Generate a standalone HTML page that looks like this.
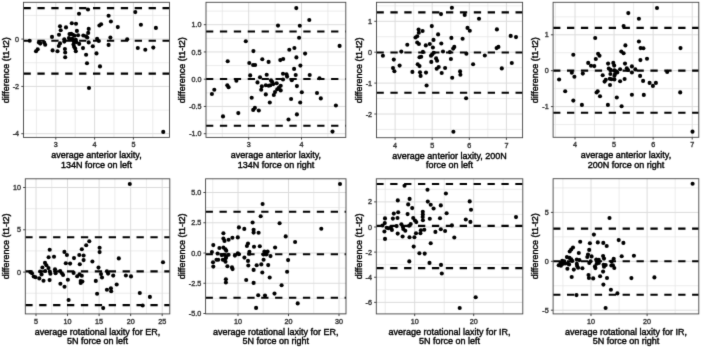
<!DOCTYPE html>
<html><head><meta charset="utf-8"><style>
html,body{margin:0;padding:0;background:#fff;width:702px;height:348px;overflow:hidden}
svg text{font-family:"Liberation Sans", sans-serif}
</style></head><body>
<svg width="702" height="348" viewBox="0 0 702 348" style="display:block"><defs><filter id="bl" x="0" y="0" width="702" height="348" filterUnits="userSpaceOnUse" color-interpolation-filters="sRGB"><feConvolveMatrix order="3" kernelMatrix="0.01134 0.08382 0.01134 0.08382 0.61935 0.08382 0.01134 0.08382 0.01134" edgeMode="duplicate" preserveAlpha="true"/></filter></defs><g filter="url(#bl)"><rect width="702" height="348" fill="#fff"/><clipPath id="p1c"><rect x="23.5" y="2.3" width="146.00" height="135.10"/></clipPath><g clip-path="url(#p1c)"><line x1="36.40" y1="2.3" x2="36.40" y2="137.4" stroke="#e4e4e4" stroke-width="0.7"/><line x1="75.20" y1="2.3" x2="75.20" y2="137.4" stroke="#e4e4e4" stroke-width="0.7"/><line x1="114.00" y1="2.3" x2="114.00" y2="137.4" stroke="#e4e4e4" stroke-width="0.7"/><line x1="152.80" y1="2.3" x2="152.80" y2="137.4" stroke="#e4e4e4" stroke-width="0.7"/><line x1="23.5" y1="15.45" x2="169.5" y2="15.45" stroke="#e4e4e4" stroke-width="0.7"/><line x1="23.5" y1="62.75" x2="169.5" y2="62.75" stroke="#e4e4e4" stroke-width="0.7"/><line x1="23.5" y1="110.05" x2="169.5" y2="110.05" stroke="#e4e4e4" stroke-width="0.7"/><line x1="55.80" y1="2.3" x2="55.80" y2="137.4" stroke="#dcdcdc" stroke-width="1"/><line x1="94.60" y1="2.3" x2="94.60" y2="137.4" stroke="#dcdcdc" stroke-width="1"/><line x1="133.40" y1="2.3" x2="133.40" y2="137.4" stroke="#dcdcdc" stroke-width="1"/><line x1="23.5" y1="39.10" x2="169.5" y2="39.10" stroke="#dcdcdc" stroke-width="1"/><line x1="23.5" y1="86.40" x2="169.5" y2="86.40" stroke="#dcdcdc" stroke-width="1"/><line x1="23.5" y1="133.70" x2="169.5" y2="133.70" stroke="#dcdcdc" stroke-width="1"/><line x1="23.5" y1="8.1" x2="169.5" y2="8.1" stroke="#000" stroke-width="2.1" stroke-dasharray="7.3 6.6"/><line x1="23.5" y1="40.8" x2="169.5" y2="40.8" stroke="#000" stroke-width="2.1" stroke-dasharray="7.3 6.6"/><line x1="23.5" y1="73.6" x2="169.5" y2="73.6" stroke="#000" stroke-width="2.1" stroke-dasharray="7.3 6.6"/><circle cx="29.7" cy="40.8" r="2.05"/><circle cx="38.9" cy="42.5" r="2.05"/><circle cx="40.3" cy="43.6" r="2.05"/><circle cx="44.2" cy="42.5" r="2.05"/><circle cx="45.2" cy="44.7" r="2.05"/><circle cx="36.0" cy="51.2" r="2.05"/><circle cx="37.7" cy="49.3" r="2.05"/><circle cx="52.0" cy="36.9" r="2.05"/><circle cx="52.6" cy="50.4" r="2.05"/><circle cx="57.5" cy="51.2" r="2.05"/><circle cx="60.0" cy="26.3" r="2.05"/><circle cx="60.7" cy="30.2" r="2.05"/><circle cx="59.0" cy="34.8" r="2.05"/><circle cx="60.0" cy="43.4" r="2.05"/><circle cx="58.8" cy="46.0" r="2.05"/><circle cx="66.0" cy="27.4" r="2.05"/><circle cx="71.8" cy="23.2" r="2.05"/><circle cx="76.0" cy="23.7" r="2.05"/><circle cx="76.9" cy="30.9" r="2.05"/><circle cx="78.1" cy="35.2" r="2.05"/><circle cx="69.5" cy="34.1" r="2.05"/><circle cx="71.2" cy="33.9" r="2.05"/><circle cx="72.9" cy="34.7" r="2.05"/><circle cx="74.6" cy="35.8" r="2.05"/><circle cx="64.3" cy="39.3" r="2.05"/><circle cx="64.3" cy="41.6" r="2.05"/><circle cx="68.9" cy="38.1" r="2.05"/><circle cx="70.0" cy="39.3" r="2.05"/><circle cx="72.3" cy="38.7" r="2.05"/><circle cx="73.5" cy="40.4" r="2.05"/><circle cx="74.1" cy="42.1" r="2.05"/><circle cx="75.8" cy="39.8" r="2.05"/><circle cx="76.4" cy="42.1" r="2.05"/><circle cx="79.2" cy="43.9" r="2.05"/><circle cx="73.5" cy="44.4" r="2.05"/><circle cx="74.1" cy="46.7" r="2.05"/><circle cx="75.2" cy="48.5" r="2.05"/><circle cx="75.8" cy="51.3" r="2.05"/><circle cx="64.9" cy="49.0" r="2.05"/><circle cx="65.2" cy="52.5" r="2.05"/><circle cx="65.2" cy="57.3" r="2.05"/><circle cx="83.0" cy="48.1" r="2.05"/><circle cx="83.3" cy="35.5" r="2.05"/><circle cx="86.1" cy="36.4" r="2.05"/><circle cx="87.3" cy="37.5" r="2.05"/><circle cx="88.7" cy="28.9" r="2.05"/><circle cx="88.2" cy="32.9" r="2.05"/><circle cx="88.7" cy="42.4" r="2.05"/><circle cx="92.8" cy="46.2" r="2.05"/><circle cx="86.1" cy="54.8" r="2.05"/><circle cx="96.5" cy="53.4" r="2.05"/><circle cx="97.1" cy="38.7" r="2.05"/><circle cx="98.8" cy="41.0" r="2.05"/><circle cx="99.4" cy="25.5" r="2.05"/><circle cx="101.1" cy="24.3" r="2.05"/><circle cx="79.0" cy="13.7" r="2.05"/><circle cx="88.0" cy="9.5" r="2.05"/><circle cx="87.0" cy="63.3" r="2.05"/><circle cx="100.0" cy="66.4" r="2.05"/><circle cx="89.0" cy="88.0" r="2.05"/><circle cx="163.25" cy="131.9" r="2.05"/><circle cx="108.6" cy="15.8" r="2.05"/><circle cx="110.9" cy="21.5" r="2.05"/><circle cx="117.8" cy="27.1" r="2.05"/><circle cx="135.3" cy="12.1" r="2.05"/><circle cx="110.4" cy="37.6" r="2.05"/><circle cx="108.6" cy="44.9" r="2.05"/><circle cx="127.2" cy="39.2" r="2.05"/><circle cx="140.9" cy="24.8" r="2.05"/><circle cx="155.9" cy="27.9" r="2.05"/><circle cx="137.8" cy="48.0" r="2.05"/><circle cx="145.3" cy="49.7" r="2.05"/><circle cx="153.3" cy="47.6" r="2.05"/></g><rect x="23.5" y="2.3" width="146.00" height="135.10" fill="none" stroke="#444" stroke-width="0.9"/><line x1="55.80" y1="137.4" x2="55.80" y2="139.6" stroke="#333" stroke-width="0.9"/><text x="55.80" y="147.4" text-anchor="middle" font-size="7.2" fill="#3a3a3a" stroke="#3a3a3a" stroke-width="0.4">3</text><line x1="94.60" y1="137.4" x2="94.60" y2="139.6" stroke="#333" stroke-width="0.9"/><text x="94.60" y="147.4" text-anchor="middle" font-size="7.2" fill="#3a3a3a" stroke="#3a3a3a" stroke-width="0.4">4</text><line x1="133.40" y1="137.4" x2="133.40" y2="139.6" stroke="#333" stroke-width="0.9"/><text x="133.40" y="147.4" text-anchor="middle" font-size="7.2" fill="#3a3a3a" stroke="#3a3a3a" stroke-width="0.4">5</text><line x1="21.3" y1="39.10" x2="23.5" y2="39.10" stroke="#333" stroke-width="0.9"/><text x="19.1" y="41.70" text-anchor="end" font-size="7.2" fill="#3a3a3a" stroke="#3a3a3a" stroke-width="0.4">0</text><line x1="21.3" y1="86.40" x2="23.5" y2="86.40" stroke="#333" stroke-width="0.9"/><text x="19.1" y="89.00" text-anchor="end" font-size="7.2" fill="#3a3a3a" stroke="#3a3a3a" stroke-width="0.4">-2</text><line x1="21.3" y1="133.70" x2="23.5" y2="133.70" stroke="#333" stroke-width="0.9"/><text x="19.1" y="136.30" text-anchor="end" font-size="7.2" fill="#3a3a3a" stroke="#3a3a3a" stroke-width="0.4">-4</text><text x="96.50" y="158.20000000000002" text-anchor="middle" font-size="9" fill="#000" stroke="#000" stroke-width="0.38">average anterior laxity,</text><text x="96.50" y="167.8" text-anchor="middle" font-size="9" fill="#000" stroke="#000" stroke-width="0.38">134N force on left</text><text transform="translate(8.80,70.25) rotate(-90)" text-anchor="middle" font-size="9" fill="#000" stroke="#000" stroke-width="0.38">difference (t1-t2)</text><clipPath id="p2c"><rect x="206.0" y="2.3" width="139.80" height="135.10"/></clipPath><g clip-path="url(#p2c)"><line x1="222.30" y1="2.3" x2="222.30" y2="137.4" stroke="#e4e4e4" stroke-width="0.7"/><line x1="275.10" y1="2.3" x2="275.10" y2="137.4" stroke="#e4e4e4" stroke-width="0.7"/><line x1="327.90" y1="2.3" x2="327.90" y2="137.4" stroke="#e4e4e4" stroke-width="0.7"/><line x1="206.0" y1="11.08" x2="345.8" y2="11.08" stroke="#e4e4e4" stroke-width="0.7"/><line x1="206.0" y1="38.33" x2="345.8" y2="38.33" stroke="#e4e4e4" stroke-width="0.7"/><line x1="206.0" y1="65.58" x2="345.8" y2="65.58" stroke="#e4e4e4" stroke-width="0.7"/><line x1="206.0" y1="92.83" x2="345.8" y2="92.83" stroke="#e4e4e4" stroke-width="0.7"/><line x1="206.0" y1="120.08" x2="345.8" y2="120.08" stroke="#e4e4e4" stroke-width="0.7"/><line x1="248.70" y1="2.3" x2="248.70" y2="137.4" stroke="#dcdcdc" stroke-width="1"/><line x1="301.50" y1="2.3" x2="301.50" y2="137.4" stroke="#dcdcdc" stroke-width="1"/><line x1="206.0" y1="24.70" x2="345.8" y2="24.70" stroke="#dcdcdc" stroke-width="1"/><line x1="206.0" y1="51.95" x2="345.8" y2="51.95" stroke="#dcdcdc" stroke-width="1"/><line x1="206.0" y1="79.20" x2="345.8" y2="79.20" stroke="#dcdcdc" stroke-width="1"/><line x1="206.0" y1="106.45" x2="345.8" y2="106.45" stroke="#dcdcdc" stroke-width="1"/><line x1="206.0" y1="133.70" x2="345.8" y2="133.70" stroke="#dcdcdc" stroke-width="1"/><line x1="206.0" y1="31.5" x2="345.8" y2="31.5" stroke="#000" stroke-width="2.1" stroke-dasharray="7.3 6.6"/><line x1="206.0" y1="79.0" x2="345.8" y2="79.0" stroke="#000" stroke-width="2.1" stroke-dasharray="7.3 6.6"/><line x1="206.0" y1="125.8" x2="345.8" y2="125.8" stroke="#000" stroke-width="2.1" stroke-dasharray="7.3 6.6"/><circle cx="245.8" cy="41.2" r="2.05"/><circle cx="296.3" cy="8.1" r="2.05"/><circle cx="278.0" cy="25.6" r="2.05"/><circle cx="299.8" cy="25.8" r="2.05"/><circle cx="309.3" cy="20.0" r="2.05"/><circle cx="299.1" cy="37.8" r="2.05"/><circle cx="289.3" cy="49.8" r="2.05"/><circle cx="294.4" cy="48.0" r="2.05"/><circle cx="305.1" cy="53.6" r="2.05"/><circle cx="296.4" cy="57.4" r="2.05"/><circle cx="339.6" cy="45.9" r="2.05"/><circle cx="227.7" cy="61.2" r="2.05"/><circle cx="249.3" cy="63.0" r="2.05"/><circle cx="253.1" cy="65.0" r="2.05"/><circle cx="255.1" cy="65.0" r="2.05"/><circle cx="253.4" cy="51.1" r="2.05"/><circle cx="262.3" cy="59.2" r="2.05"/><circle cx="268.6" cy="61.9" r="2.05"/><circle cx="280.3" cy="60.1" r="2.05"/><circle cx="283.2" cy="59.0" r="2.05"/><circle cx="250.2" cy="75.4" r="2.05"/><circle cx="236.4" cy="80.8" r="2.05"/><circle cx="227.3" cy="85.3" r="2.05"/><circle cx="228.6" cy="87.2" r="2.05"/><circle cx="211.9" cy="94.0" r="2.05"/><circle cx="214.3" cy="89.7" r="2.05"/><circle cx="251.7" cy="97.8" r="2.05"/><circle cx="223.0" cy="116.4" r="2.05"/><circle cx="238.3" cy="113.1" r="2.05"/><circle cx="253.2" cy="109.9" r="2.05"/><circle cx="254.9" cy="107.9" r="2.05"/><circle cx="258.8" cy="110.5" r="2.05"/><circle cx="266.7" cy="74.7" r="2.05"/><circle cx="260.0" cy="77.2" r="2.05"/><circle cx="257.5" cy="82.4" r="2.05"/><circle cx="271.0" cy="80.4" r="2.05"/><circle cx="272.1" cy="81.8" r="2.05"/><circle cx="261.8" cy="86.4" r="2.05"/><circle cx="261.2" cy="89.8" r="2.05"/><circle cx="265.8" cy="85.2" r="2.05"/><circle cx="268.7" cy="85.8" r="2.05"/><circle cx="270.4" cy="85.2" r="2.05"/><circle cx="273.3" cy="84.1" r="2.05"/><circle cx="276.7" cy="83.2" r="2.05"/><circle cx="265.8" cy="94.4" r="2.05"/><circle cx="273.8" cy="95.0" r="2.05"/><circle cx="275.0" cy="92.1" r="2.05"/><circle cx="277.3" cy="89.3" r="2.05"/><circle cx="279.0" cy="87.5" r="2.05"/><circle cx="280.7" cy="85.8" r="2.05"/><circle cx="280.7" cy="90.4" r="2.05"/><circle cx="283.0" cy="79.5" r="2.05"/><circle cx="283.0" cy="73.7" r="2.05"/><circle cx="286.5" cy="74.3" r="2.05"/><circle cx="287.1" cy="76.6" r="2.05"/><circle cx="269.8" cy="102.5" r="2.05"/><circle cx="291.1" cy="99.0" r="2.05"/><circle cx="300.4" cy="65.6" r="2.05"/><circle cx="294.1" cy="68.9" r="2.05"/><circle cx="295.7" cy="75.0" r="2.05"/><circle cx="291.8" cy="80.2" r="2.05"/><circle cx="309.7" cy="75.0" r="2.05"/><circle cx="319.5" cy="78.3" r="2.05"/><circle cx="296.9" cy="86.1" r="2.05"/><circle cx="301.8" cy="92.3" r="2.05"/><circle cx="317.0" cy="93.0" r="2.05"/><circle cx="300.2" cy="102.5" r="2.05"/><circle cx="320.8" cy="98.4" r="2.05"/><circle cx="335.9" cy="105.5" r="2.05"/><circle cx="296.9" cy="114.4" r="2.05"/><circle cx="288.5" cy="119.5" r="2.05"/><circle cx="332.5" cy="131.6" r="2.05"/></g><rect x="206.0" y="2.3" width="139.80" height="135.10" fill="none" stroke="#444" stroke-width="0.9"/><line x1="248.70" y1="137.4" x2="248.70" y2="139.6" stroke="#333" stroke-width="0.9"/><text x="248.70" y="147.4" text-anchor="middle" font-size="7.2" fill="#3a3a3a" stroke="#3a3a3a" stroke-width="0.4">3</text><line x1="301.50" y1="137.4" x2="301.50" y2="139.6" stroke="#333" stroke-width="0.9"/><text x="301.50" y="147.4" text-anchor="middle" font-size="7.2" fill="#3a3a3a" stroke="#3a3a3a" stroke-width="0.4">4</text><line x1="203.8" y1="24.70" x2="206.0" y2="24.70" stroke="#333" stroke-width="0.9"/><text x="201.6" y="27.30" text-anchor="end" font-size="7.2" fill="#3a3a3a" stroke="#3a3a3a" stroke-width="0.4">1.0</text><line x1="203.8" y1="51.95" x2="206.0" y2="51.95" stroke="#333" stroke-width="0.9"/><text x="201.6" y="54.55" text-anchor="end" font-size="7.2" fill="#3a3a3a" stroke="#3a3a3a" stroke-width="0.4">0.5</text><line x1="203.8" y1="79.20" x2="206.0" y2="79.20" stroke="#333" stroke-width="0.9"/><text x="201.6" y="81.80" text-anchor="end" font-size="7.2" fill="#3a3a3a" stroke="#3a3a3a" stroke-width="0.4">0.0</text><line x1="203.8" y1="106.45" x2="206.0" y2="106.45" stroke="#333" stroke-width="0.9"/><text x="201.6" y="109.05" text-anchor="end" font-size="7.2" fill="#3a3a3a" stroke="#3a3a3a" stroke-width="0.4">-0.5</text><line x1="203.8" y1="133.70" x2="206.0" y2="133.70" stroke="#333" stroke-width="0.9"/><text x="201.6" y="136.30" text-anchor="end" font-size="7.2" fill="#3a3a3a" stroke="#3a3a3a" stroke-width="0.4">-1.0</text><text x="275.90" y="158.20000000000002" text-anchor="middle" font-size="9" fill="#000" stroke="#000" stroke-width="0.38">average anterior laxity,</text><text x="275.90" y="167.8" text-anchor="middle" font-size="9" fill="#000" stroke="#000" stroke-width="0.38">134N force on right</text><text transform="translate(185.40,70.25) rotate(-90)" text-anchor="middle" font-size="9" fill="#000" stroke="#000" stroke-width="0.38">difference (t1-t2)</text><clipPath id="p3c"><rect x="376.5" y="2.3" width="146.10" height="135.40"/></clipPath><g clip-path="url(#p3c)"><line x1="413.65" y1="2.3" x2="413.65" y2="137.7" stroke="#e4e4e4" stroke-width="0.7"/><line x1="450.75" y1="2.3" x2="450.75" y2="137.7" stroke="#e4e4e4" stroke-width="0.7"/><line x1="487.85" y1="2.3" x2="487.85" y2="137.7" stroke="#e4e4e4" stroke-width="0.7"/><line x1="376.5" y1="5.85" x2="522.6" y2="5.85" stroke="#e4e4e4" stroke-width="0.7"/><line x1="376.5" y1="36.75" x2="522.6" y2="36.75" stroke="#e4e4e4" stroke-width="0.7"/><line x1="376.5" y1="67.65" x2="522.6" y2="67.65" stroke="#e4e4e4" stroke-width="0.7"/><line x1="376.5" y1="98.55" x2="522.6" y2="98.55" stroke="#e4e4e4" stroke-width="0.7"/><line x1="376.5" y1="129.45" x2="522.6" y2="129.45" stroke="#e4e4e4" stroke-width="0.7"/><line x1="395.10" y1="2.3" x2="395.10" y2="137.7" stroke="#dcdcdc" stroke-width="1"/><line x1="432.20" y1="2.3" x2="432.20" y2="137.7" stroke="#dcdcdc" stroke-width="1"/><line x1="469.30" y1="2.3" x2="469.30" y2="137.7" stroke="#dcdcdc" stroke-width="1"/><line x1="506.40" y1="2.3" x2="506.40" y2="137.7" stroke="#dcdcdc" stroke-width="1"/><line x1="376.5" y1="21.30" x2="522.6" y2="21.30" stroke="#dcdcdc" stroke-width="1"/><line x1="376.5" y1="52.20" x2="522.6" y2="52.20" stroke="#dcdcdc" stroke-width="1"/><line x1="376.5" y1="83.10" x2="522.6" y2="83.10" stroke="#dcdcdc" stroke-width="1"/><line x1="376.5" y1="114.00" x2="522.6" y2="114.00" stroke="#dcdcdc" stroke-width="1"/><line x1="376.5" y1="12.4" x2="522.6" y2="12.4" stroke="#000" stroke-width="2.1" stroke-dasharray="7.3 6.6"/><line x1="376.5" y1="52.5" x2="522.6" y2="52.5" stroke="#000" stroke-width="2.1" stroke-dasharray="7.3 6.6"/><line x1="376.5" y1="92.7" x2="522.6" y2="92.7" stroke="#000" stroke-width="2.1" stroke-dasharray="7.3 6.6"/><circle cx="382.9" cy="55.8" r="2.05"/><circle cx="393.8" cy="59.6" r="2.05"/><circle cx="393.0" cy="68.1" r="2.05"/><circle cx="394.4" cy="71.3" r="2.05"/><circle cx="399.6" cy="65.6" r="2.05"/><circle cx="401.3" cy="51.6" r="2.05"/><circle cx="407.3" cy="44.7" r="2.05"/><circle cx="412.4" cy="71.9" r="2.05"/><circle cx="415.5" cy="37.5" r="2.05"/><circle cx="417.2" cy="36.3" r="2.05"/><circle cx="417.2" cy="42.5" r="2.05"/><circle cx="418.9" cy="44.0" r="2.05"/><circle cx="418.6" cy="29.6" r="2.05"/><circle cx="418.8" cy="32.8" r="2.05"/><circle cx="422.6" cy="31.0" r="2.05"/><circle cx="431.8" cy="26.1" r="2.05"/><circle cx="438.1" cy="34.4" r="2.05"/><circle cx="433.5" cy="39.9" r="2.05"/><circle cx="451.9" cy="7.7" r="2.05"/><circle cx="441.0" cy="14.1" r="2.05"/><circle cx="464.7" cy="14.9" r="2.05"/><circle cx="479.0" cy="18.7" r="2.05"/><circle cx="467.5" cy="27.9" r="2.05"/><circle cx="469.8" cy="30.7" r="2.05"/><circle cx="451.4" cy="37.9" r="2.05"/><circle cx="462.6" cy="38.8" r="2.05"/><circle cx="496.9" cy="29.4" r="2.05"/><circle cx="510.7" cy="35.9" r="2.05"/><circle cx="516.0" cy="37.1" r="2.05"/><circle cx="425.8" cy="45.4" r="2.05"/><circle cx="429.8" cy="44.0" r="2.05"/><circle cx="432.9" cy="47.5" r="2.05"/><circle cx="441.3" cy="43.5" r="2.05"/><circle cx="422.9" cy="51.9" r="2.05"/><circle cx="419.5" cy="57.3" r="2.05"/><circle cx="421.2" cy="56.7" r="2.05"/><circle cx="431.0" cy="55.8" r="2.05"/><circle cx="432.1" cy="54.4" r="2.05"/><circle cx="433.8" cy="52.7" r="2.05"/><circle cx="436.1" cy="58.4" r="2.05"/><circle cx="437.1" cy="60.7" r="2.05"/><circle cx="443.0" cy="51.5" r="2.05"/><circle cx="449.9" cy="52.1" r="2.05"/><circle cx="450.9" cy="59.0" r="2.05"/><circle cx="431.3" cy="61.9" r="2.05"/><circle cx="417.7" cy="64.2" r="2.05"/><circle cx="419.5" cy="66.1" r="2.05"/><circle cx="436.7" cy="68.8" r="2.05"/><circle cx="438.7" cy="67.0" r="2.05"/><circle cx="445.1" cy="68.0" r="2.05"/><circle cx="420.0" cy="72.2" r="2.05"/><circle cx="426.0" cy="72.6" r="2.05"/><circle cx="441.7" cy="73.0" r="2.05"/><circle cx="420.6" cy="75.9" r="2.05"/><circle cx="454.3" cy="46.9" r="2.05"/><circle cx="453.2" cy="48.6" r="2.05"/><circle cx="466.4" cy="53.8" r="2.05"/><circle cx="473.1" cy="64.2" r="2.05"/><circle cx="484.8" cy="55.5" r="2.05"/><circle cx="460.1" cy="71.4" r="2.05"/><circle cx="460.4" cy="74.8" r="2.05"/><circle cx="496.6" cy="48.1" r="2.05"/><circle cx="498.4" cy="46.9" r="2.05"/><circle cx="511.8" cy="63.0" r="2.05"/><circle cx="501.8" cy="68.4" r="2.05"/><circle cx="426.6" cy="85.5" r="2.05"/><circle cx="452.2" cy="77.8" r="2.05"/><circle cx="466.1" cy="98.2" r="2.05"/><circle cx="453.4" cy="131.8" r="2.05"/></g><rect x="376.5" y="2.3" width="146.10" height="135.40" fill="none" stroke="#444" stroke-width="0.9"/><line x1="395.10" y1="137.7" x2="395.10" y2="139.89999999999998" stroke="#333" stroke-width="0.9"/><text x="395.10" y="147.7" text-anchor="middle" font-size="7.2" fill="#3a3a3a" stroke="#3a3a3a" stroke-width="0.4">4</text><line x1="432.20" y1="137.7" x2="432.20" y2="139.89999999999998" stroke="#333" stroke-width="0.9"/><text x="432.20" y="147.7" text-anchor="middle" font-size="7.2" fill="#3a3a3a" stroke="#3a3a3a" stroke-width="0.4">5</text><line x1="469.30" y1="137.7" x2="469.30" y2="139.89999999999998" stroke="#333" stroke-width="0.9"/><text x="469.30" y="147.7" text-anchor="middle" font-size="7.2" fill="#3a3a3a" stroke="#3a3a3a" stroke-width="0.4">6</text><line x1="506.40" y1="137.7" x2="506.40" y2="139.89999999999998" stroke="#333" stroke-width="0.9"/><text x="506.40" y="147.7" text-anchor="middle" font-size="7.2" fill="#3a3a3a" stroke="#3a3a3a" stroke-width="0.4">7</text><line x1="374.3" y1="21.30" x2="376.5" y2="21.30" stroke="#333" stroke-width="0.9"/><text x="372.1" y="23.90" text-anchor="end" font-size="7.2" fill="#3a3a3a" stroke="#3a3a3a" stroke-width="0.4">1</text><line x1="374.3" y1="52.20" x2="376.5" y2="52.20" stroke="#333" stroke-width="0.9"/><text x="372.1" y="54.80" text-anchor="end" font-size="7.2" fill="#3a3a3a" stroke="#3a3a3a" stroke-width="0.4">0</text><line x1="374.3" y1="83.10" x2="376.5" y2="83.10" stroke="#333" stroke-width="0.9"/><text x="372.1" y="85.70" text-anchor="end" font-size="7.2" fill="#3a3a3a" stroke="#3a3a3a" stroke-width="0.4">-1</text><line x1="374.3" y1="114.00" x2="376.5" y2="114.00" stroke="#333" stroke-width="0.9"/><text x="372.1" y="116.60" text-anchor="end" font-size="7.2" fill="#3a3a3a" stroke="#3a3a3a" stroke-width="0.4">-2</text><text x="449.55" y="158.5" text-anchor="middle" font-size="9" fill="#000" stroke="#000" stroke-width="0.38">average anterior laxity, 200N</text><text x="449.55" y="168.1" text-anchor="middle" font-size="9" fill="#000" stroke="#000" stroke-width="0.38">force on left</text><text transform="translate(362.00,70.40) rotate(-90)" text-anchor="middle" font-size="9" fill="#000" stroke="#000" stroke-width="0.38">difference (t1-t2)</text><clipPath id="p4c"><rect x="553.1" y="2.3" width="145.70" height="135.00"/></clipPath><g clip-path="url(#p4c)"><line x1="555.47" y1="2.3" x2="555.47" y2="137.3" stroke="#e4e4e4" stroke-width="0.7"/><line x1="594.53" y1="2.3" x2="594.53" y2="137.3" stroke="#e4e4e4" stroke-width="0.7"/><line x1="633.61" y1="2.3" x2="633.61" y2="137.3" stroke="#e4e4e4" stroke-width="0.7"/><line x1="672.67" y1="2.3" x2="672.67" y2="137.3" stroke="#e4e4e4" stroke-width="0.7"/><line x1="553.1" y1="16.85" x2="698.8" y2="16.85" stroke="#e4e4e4" stroke-width="0.7"/><line x1="553.1" y1="52.75" x2="698.8" y2="52.75" stroke="#e4e4e4" stroke-width="0.7"/><line x1="553.1" y1="88.65" x2="698.8" y2="88.65" stroke="#e4e4e4" stroke-width="0.7"/><line x1="553.1" y1="124.55" x2="698.8" y2="124.55" stroke="#e4e4e4" stroke-width="0.7"/><line x1="575.00" y1="2.3" x2="575.00" y2="137.3" stroke="#dcdcdc" stroke-width="1"/><line x1="614.07" y1="2.3" x2="614.07" y2="137.3" stroke="#dcdcdc" stroke-width="1"/><line x1="653.14" y1="2.3" x2="653.14" y2="137.3" stroke="#dcdcdc" stroke-width="1"/><line x1="692.21" y1="2.3" x2="692.21" y2="137.3" stroke="#dcdcdc" stroke-width="1"/><line x1="553.1" y1="34.80" x2="698.8" y2="34.80" stroke="#dcdcdc" stroke-width="1"/><line x1="553.1" y1="70.70" x2="698.8" y2="70.70" stroke="#dcdcdc" stroke-width="1"/><line x1="553.1" y1="106.60" x2="698.8" y2="106.60" stroke="#dcdcdc" stroke-width="1"/><line x1="553.1" y1="27.9" x2="698.8" y2="27.9" stroke="#000" stroke-width="2.1" stroke-dasharray="7.3 6.6"/><line x1="553.1" y1="70.6" x2="698.8" y2="70.6" stroke="#000" stroke-width="2.1" stroke-dasharray="7.3 6.6"/><line x1="553.1" y1="112.8" x2="698.8" y2="112.8" stroke="#000" stroke-width="2.1" stroke-dasharray="7.3 6.6"/><circle cx="628.3" cy="13.1" r="2.05"/><circle cx="623.6" cy="26.1" r="2.05"/><circle cx="595.2" cy="38.0" r="2.05"/><circle cx="638.9" cy="18.7" r="2.05"/><circle cx="657.0" cy="8.0" r="2.05"/><circle cx="638.9" cy="41.5" r="2.05"/><circle cx="573.3" cy="54.7" r="2.05"/><circle cx="571.8" cy="72.8" r="2.05"/><circle cx="574.4" cy="76.8" r="2.05"/><circle cx="582.8" cy="73.6" r="2.05"/><circle cx="588.2" cy="62.9" r="2.05"/><circle cx="591.0" cy="65.8" r="2.05"/><circle cx="594.3" cy="66.1" r="2.05"/><circle cx="559.1" cy="79.5" r="2.05"/><circle cx="625.4" cy="45.4" r="2.05"/><circle cx="621.3" cy="51.5" r="2.05"/><circle cx="623.6" cy="53.2" r="2.05"/><circle cx="598.1" cy="53.8" r="2.05"/><circle cx="599.5" cy="55.8" r="2.05"/><circle cx="595.8" cy="59.0" r="2.05"/><circle cx="608.1" cy="63.6" r="2.05"/><circle cx="613.3" cy="62.9" r="2.05"/><circle cx="614.2" cy="65.6" r="2.05"/><circle cx="625.0" cy="63.6" r="2.05"/><circle cx="608.8" cy="68.5" r="2.05"/><circle cx="610.6" cy="69.9" r="2.05"/><circle cx="614.4" cy="70.4" r="2.05"/><circle cx="616.1" cy="71.2" r="2.05"/><circle cx="617.3" cy="72.4" r="2.05"/><circle cx="620.1" cy="69.3" r="2.05"/><circle cx="626.8" cy="68.3" r="2.05"/><circle cx="628.0" cy="70.0" r="2.05"/><circle cx="631.9" cy="66.4" r="2.05"/><circle cx="631.9" cy="72.5" r="2.05"/><circle cx="635.3" cy="69.4" r="2.05"/><circle cx="610.4" cy="74.0" r="2.05"/><circle cx="615.0" cy="74.1" r="2.05"/><circle cx="614.4" cy="75.8" r="2.05"/><circle cx="602.7" cy="75.2" r="2.05"/><circle cx="609.8" cy="78.8" r="2.05"/><circle cx="611.5" cy="79.2" r="2.05"/><circle cx="614.4" cy="79.4" r="2.05"/><circle cx="605.8" cy="79.8" r="2.05"/><circle cx="604.6" cy="81.6" r="2.05"/><circle cx="620.1" cy="81.2" r="2.05"/><circle cx="624.6" cy="79.0" r="2.05"/><circle cx="610.0" cy="85.0" r="2.05"/><circle cx="597.7" cy="91.3" r="2.05"/><circle cx="596.6" cy="92.5" r="2.05"/><circle cx="600.0" cy="96.2" r="2.05"/><circle cx="616.8" cy="97.5" r="2.05"/><circle cx="631.9" cy="94.8" r="2.05"/><circle cx="640.6" cy="48.1" r="2.05"/><circle cx="643.4" cy="48.3" r="2.05"/><circle cx="640.4" cy="60.1" r="2.05"/><circle cx="647.0" cy="58.8" r="2.05"/><circle cx="667.2" cy="71.9" r="2.05"/><circle cx="640.1" cy="75.9" r="2.05"/><circle cx="680.5" cy="48.1" r="2.05"/><circle cx="565.2" cy="91.2" r="2.05"/><circle cx="573.3" cy="100.6" r="2.05"/><circle cx="581.9" cy="104.9" r="2.05"/><circle cx="643.1" cy="80.9" r="2.05"/><circle cx="649.6" cy="82.9" r="2.05"/><circle cx="652.9" cy="85.9" r="2.05"/><circle cx="655.9" cy="82.9" r="2.05"/><circle cx="643.8" cy="94.9" r="2.05"/><circle cx="607.9" cy="104.9" r="2.05"/><circle cx="621.6" cy="106.3" r="2.05"/><circle cx="680.2" cy="92.4" r="2.05"/><circle cx="692.5" cy="131.65" r="2.05"/></g><rect x="553.1" y="2.3" width="145.70" height="135.00" fill="none" stroke="#444" stroke-width="0.9"/><line x1="575.00" y1="137.3" x2="575.00" y2="139.5" stroke="#333" stroke-width="0.9"/><text x="575.00" y="147.3" text-anchor="middle" font-size="7.2" fill="#3a3a3a" stroke="#3a3a3a" stroke-width="0.4">4</text><line x1="614.07" y1="137.3" x2="614.07" y2="139.5" stroke="#333" stroke-width="0.9"/><text x="614.07" y="147.3" text-anchor="middle" font-size="7.2" fill="#3a3a3a" stroke="#3a3a3a" stroke-width="0.4">5</text><line x1="653.14" y1="137.3" x2="653.14" y2="139.5" stroke="#333" stroke-width="0.9"/><text x="653.14" y="147.3" text-anchor="middle" font-size="7.2" fill="#3a3a3a" stroke="#3a3a3a" stroke-width="0.4">6</text><line x1="692.21" y1="137.3" x2="692.21" y2="139.5" stroke="#333" stroke-width="0.9"/><text x="692.21" y="147.3" text-anchor="middle" font-size="7.2" fill="#3a3a3a" stroke="#3a3a3a" stroke-width="0.4">7</text><line x1="550.9" y1="34.80" x2="553.1" y2="34.80" stroke="#333" stroke-width="0.9"/><text x="548.7" y="37.40" text-anchor="end" font-size="7.2" fill="#3a3a3a" stroke="#3a3a3a" stroke-width="0.4">1</text><line x1="550.9" y1="70.70" x2="553.1" y2="70.70" stroke="#333" stroke-width="0.9"/><text x="548.7" y="73.30" text-anchor="end" font-size="7.2" fill="#3a3a3a" stroke="#3a3a3a" stroke-width="0.4">0</text><line x1="550.9" y1="106.60" x2="553.1" y2="106.60" stroke="#333" stroke-width="0.9"/><text x="548.7" y="109.20" text-anchor="end" font-size="7.2" fill="#3a3a3a" stroke="#3a3a3a" stroke-width="0.4">-1</text><text x="625.95" y="158.10000000000002" text-anchor="middle" font-size="9" fill="#000" stroke="#000" stroke-width="0.38">average anterior laxity,</text><text x="625.95" y="167.70000000000002" text-anchor="middle" font-size="9" fill="#000" stroke="#000" stroke-width="0.38">200N force on right</text><text transform="translate(538.00,70.20) rotate(-90)" text-anchor="middle" font-size="9" fill="#000" stroke="#000" stroke-width="0.38">difference (t1-t2)</text><clipPath id="p5c"><rect x="25.3" y="178.8" width="144.50" height="135.10"/></clipPath><g clip-path="url(#p5c)"><line x1="51.77" y1="178.8" x2="51.77" y2="313.9" stroke="#e4e4e4" stroke-width="0.7"/><line x1="83.32" y1="178.8" x2="83.32" y2="313.9" stroke="#e4e4e4" stroke-width="0.7"/><line x1="114.88" y1="178.8" x2="114.88" y2="313.9" stroke="#e4e4e4" stroke-width="0.7"/><line x1="146.43" y1="178.8" x2="146.43" y2="313.9" stroke="#e4e4e4" stroke-width="0.7"/><line x1="25.3" y1="208.65" x2="169.8" y2="208.65" stroke="#e4e4e4" stroke-width="0.7"/><line x1="25.3" y1="250.95" x2="169.8" y2="250.95" stroke="#e4e4e4" stroke-width="0.7"/><line x1="25.3" y1="293.25" x2="169.8" y2="293.25" stroke="#e4e4e4" stroke-width="0.7"/><line x1="36.00" y1="178.8" x2="36.00" y2="313.9" stroke="#dcdcdc" stroke-width="1"/><line x1="67.55" y1="178.8" x2="67.55" y2="313.9" stroke="#dcdcdc" stroke-width="1"/><line x1="99.10" y1="178.8" x2="99.10" y2="313.9" stroke="#dcdcdc" stroke-width="1"/><line x1="130.65" y1="178.8" x2="130.65" y2="313.9" stroke="#dcdcdc" stroke-width="1"/><line x1="162.20" y1="178.8" x2="162.20" y2="313.9" stroke="#dcdcdc" stroke-width="1"/><line x1="25.3" y1="187.50" x2="169.8" y2="187.50" stroke="#dcdcdc" stroke-width="1"/><line x1="25.3" y1="229.80" x2="169.8" y2="229.80" stroke="#dcdcdc" stroke-width="1"/><line x1="25.3" y1="272.10" x2="169.8" y2="272.10" stroke="#dcdcdc" stroke-width="1"/><line x1="25.3" y1="237.3" x2="169.8" y2="237.3" stroke="#000" stroke-width="2.1" stroke-dasharray="7.3 6.6"/><line x1="25.3" y1="271.4" x2="169.8" y2="271.4" stroke="#000" stroke-width="2.1" stroke-dasharray="7.3 6.6"/><line x1="25.3" y1="305.1" x2="169.8" y2="305.1" stroke="#000" stroke-width="2.1" stroke-dasharray="7.3 6.6"/><circle cx="129.8" cy="184.0" r="2.05"/><circle cx="49.7" cy="249.8" r="2.05"/><circle cx="48.6" cy="257.2" r="2.05"/><circle cx="54.0" cy="256.7" r="2.05"/><circle cx="45.0" cy="262.9" r="2.05"/><circle cx="46.4" cy="265.3" r="2.05"/><circle cx="42.4" cy="267.5" r="2.05"/><circle cx="48.5" cy="268.1" r="2.05"/><circle cx="40.1" cy="271.5" r="2.05"/><circle cx="41.6" cy="274.4" r="2.05"/><circle cx="45.2" cy="271.0" r="2.05"/><circle cx="49.8" cy="271.5" r="2.05"/><circle cx="50.4" cy="273.8" r="2.05"/><circle cx="55.0" cy="269.2" r="2.05"/><circle cx="55.6" cy="273.2" r="2.05"/><circle cx="60.2" cy="271.0" r="2.05"/><circle cx="61.9" cy="273.2" r="2.05"/><circle cx="63.1" cy="275.0" r="2.05"/><circle cx="30.3" cy="272.1" r="2.05"/><circle cx="32.0" cy="273.2" r="2.05"/><circle cx="33.7" cy="276.5" r="2.05"/><circle cx="35.5" cy="277.3" r="2.05"/><circle cx="39.3" cy="278.4" r="2.05"/><circle cx="43.5" cy="280.7" r="2.05"/><circle cx="49.6" cy="280.1" r="2.05"/><circle cx="60.4" cy="283.8" r="2.05"/><circle cx="64.5" cy="286.8" r="2.05"/><circle cx="64.4" cy="251.9" r="2.05"/><circle cx="66.9" cy="255.0" r="2.05"/><circle cx="65.8" cy="263.2" r="2.05"/><circle cx="70.1" cy="263.6" r="2.05"/><circle cx="67.9" cy="279.8" r="2.05"/><circle cx="89.3" cy="241.2" r="2.05"/><circle cx="86.2" cy="245.2" r="2.05"/><circle cx="81.8" cy="249.2" r="2.05"/><circle cx="74.0" cy="258.1" r="2.05"/><circle cx="79.3" cy="255.0" r="2.05"/><circle cx="83.6" cy="255.5" r="2.05"/><circle cx="83.6" cy="260.1" r="2.05"/><circle cx="79.8" cy="264.2" r="2.05"/><circle cx="92.4" cy="261.5" r="2.05"/><circle cx="99.6" cy="247.8" r="2.05"/><circle cx="99.6" cy="252.1" r="2.05"/><circle cx="98.5" cy="267.6" r="2.05"/><circle cx="73.6" cy="272.9" r="2.05"/><circle cx="77.2" cy="276.3" r="2.05"/><circle cx="79.5" cy="274.3" r="2.05"/><circle cx="81.8" cy="275.8" r="2.05"/><circle cx="80.7" cy="281.0" r="2.05"/><circle cx="82.4" cy="281.5" r="2.05"/><circle cx="80.7" cy="283.0" r="2.05"/><circle cx="95.8" cy="280.9" r="2.05"/><circle cx="97.1" cy="293.7" r="2.05"/><circle cx="68.6" cy="300.0" r="2.05"/><circle cx="118.8" cy="258.4" r="2.05"/><circle cx="101.0" cy="274.1" r="2.05"/><circle cx="102.0" cy="277.5" r="2.05"/><circle cx="106.9" cy="271.2" r="2.05"/><circle cx="108.1" cy="273.6" r="2.05"/><circle cx="113.2" cy="275.6" r="2.05"/><circle cx="125.9" cy="275.5" r="2.05"/><circle cx="131.0" cy="276.4" r="2.05"/><circle cx="116.7" cy="284.5" r="2.05"/><circle cx="106.9" cy="289.8" r="2.05"/><circle cx="110.9" cy="288.2" r="2.05"/><circle cx="111.2" cy="291.2" r="2.05"/><circle cx="139.8" cy="293.0" r="2.05"/><circle cx="149.9" cy="296.9" r="2.05"/><circle cx="142.7" cy="305.5" r="2.05"/><circle cx="103.2" cy="308.1" r="2.05"/><circle cx="163.0" cy="262.2" r="2.05"/></g><rect x="25.3" y="178.8" width="144.50" height="135.10" fill="none" stroke="#444" stroke-width="0.9"/><line x1="36.00" y1="313.9" x2="36.00" y2="316.09999999999997" stroke="#333" stroke-width="0.9"/><text x="36.00" y="323.9" text-anchor="middle" font-size="7.2" fill="#3a3a3a" stroke="#3a3a3a" stroke-width="0.4">5</text><line x1="67.55" y1="313.9" x2="67.55" y2="316.09999999999997" stroke="#333" stroke-width="0.9"/><text x="67.55" y="323.9" text-anchor="middle" font-size="7.2" fill="#3a3a3a" stroke="#3a3a3a" stroke-width="0.4">10</text><line x1="99.10" y1="313.9" x2="99.10" y2="316.09999999999997" stroke="#333" stroke-width="0.9"/><text x="99.10" y="323.9" text-anchor="middle" font-size="7.2" fill="#3a3a3a" stroke="#3a3a3a" stroke-width="0.4">15</text><line x1="130.65" y1="313.9" x2="130.65" y2="316.09999999999997" stroke="#333" stroke-width="0.9"/><text x="130.65" y="323.9" text-anchor="middle" font-size="7.2" fill="#3a3a3a" stroke="#3a3a3a" stroke-width="0.4">20</text><line x1="162.20" y1="313.9" x2="162.20" y2="316.09999999999997" stroke="#333" stroke-width="0.9"/><text x="162.20" y="323.9" text-anchor="middle" font-size="7.2" fill="#3a3a3a" stroke="#3a3a3a" stroke-width="0.4">25</text><line x1="23.1" y1="187.50" x2="25.3" y2="187.50" stroke="#333" stroke-width="0.9"/><text x="20.9" y="190.10" text-anchor="end" font-size="7.2" fill="#3a3a3a" stroke="#3a3a3a" stroke-width="0.4">10</text><line x1="23.1" y1="229.80" x2="25.3" y2="229.80" stroke="#333" stroke-width="0.9"/><text x="20.9" y="232.40" text-anchor="end" font-size="7.2" fill="#3a3a3a" stroke="#3a3a3a" stroke-width="0.4">5</text><line x1="23.1" y1="272.10" x2="25.3" y2="272.10" stroke="#333" stroke-width="0.9"/><text x="20.9" y="274.70" text-anchor="end" font-size="7.2" fill="#3a3a3a" stroke="#3a3a3a" stroke-width="0.4">0</text><text x="97.55" y="334.7" text-anchor="middle" font-size="9" fill="#000" stroke="#000" stroke-width="0.38">average rotational laxity for ER,</text><text x="97.55" y="344.29999999999995" text-anchor="middle" font-size="9" fill="#000" stroke="#000" stroke-width="0.38">5N force on left</text><text transform="translate(8.80,246.35) rotate(-90)" text-anchor="middle" font-size="9" fill="#000" stroke="#000" stroke-width="0.38">difference (t1-t2)</text><clipPath id="p6c"><rect x="205.6" y="178.8" width="140.40" height="135.10"/></clipPath><g clip-path="url(#p6c)"><line x1="212.75" y1="178.8" x2="212.75" y2="313.9" stroke="#e4e4e4" stroke-width="0.7"/><line x1="263.25" y1="178.8" x2="263.25" y2="313.9" stroke="#e4e4e4" stroke-width="0.7"/><line x1="313.75" y1="178.8" x2="313.75" y2="313.9" stroke="#e4e4e4" stroke-width="0.7"/><line x1="205.6" y1="207.62" x2="346.0" y2="207.62" stroke="#e4e4e4" stroke-width="0.7"/><line x1="205.6" y1="237.88" x2="346.0" y2="237.88" stroke="#e4e4e4" stroke-width="0.7"/><line x1="205.6" y1="268.12" x2="346.0" y2="268.12" stroke="#e4e4e4" stroke-width="0.7"/><line x1="205.6" y1="298.38" x2="346.0" y2="298.38" stroke="#e4e4e4" stroke-width="0.7"/><line x1="238.00" y1="178.8" x2="238.00" y2="313.9" stroke="#dcdcdc" stroke-width="1"/><line x1="288.50" y1="178.8" x2="288.50" y2="313.9" stroke="#dcdcdc" stroke-width="1"/><line x1="339.00" y1="178.8" x2="339.00" y2="313.9" stroke="#dcdcdc" stroke-width="1"/><line x1="205.6" y1="192.50" x2="346.0" y2="192.50" stroke="#dcdcdc" stroke-width="1"/><line x1="205.6" y1="222.75" x2="346.0" y2="222.75" stroke="#dcdcdc" stroke-width="1"/><line x1="205.6" y1="253.00" x2="346.0" y2="253.00" stroke="#dcdcdc" stroke-width="1"/><line x1="205.6" y1="283.25" x2="346.0" y2="283.25" stroke="#dcdcdc" stroke-width="1"/><line x1="205.6" y1="313.50" x2="346.0" y2="313.50" stroke="#dcdcdc" stroke-width="1"/><line x1="205.6" y1="211.8" x2="346.0" y2="211.8" stroke="#000" stroke-width="2.1" stroke-dasharray="7.3 6.6"/><line x1="205.6" y1="254.3" x2="346.0" y2="254.3" stroke="#000" stroke-width="2.1" stroke-dasharray="7.3 6.6"/><line x1="205.6" y1="297.7" x2="346.0" y2="297.7" stroke="#000" stroke-width="2.1" stroke-dasharray="7.3 6.6"/><circle cx="340.0" cy="184.0" r="2.05"/><circle cx="262.6" cy="204.0" r="2.05"/><circle cx="260.7" cy="216.3" r="2.05"/><circle cx="252.6" cy="222.5" r="2.05"/><circle cx="279.6" cy="223.2" r="2.05"/><circle cx="321.3" cy="228.7" r="2.05"/><circle cx="285.7" cy="236.4" r="2.05"/><circle cx="295.1" cy="242.0" r="2.05"/><circle cx="238.9" cy="227.4" r="2.05"/><circle cx="244.3" cy="228.9" r="2.05"/><circle cx="223.4" cy="233.2" r="2.05"/><circle cx="223.4" cy="238.6" r="2.05"/><circle cx="224.5" cy="240.9" r="2.05"/><circle cx="228.6" cy="239.7" r="2.05"/><circle cx="232.4" cy="237.8" r="2.05"/><circle cx="237.8" cy="237.4" r="2.05"/><circle cx="213.3" cy="245.1" r="2.05"/><circle cx="219.4" cy="248.0" r="2.05"/><circle cx="223.4" cy="247.6" r="2.05"/><circle cx="225.5" cy="249.4" r="2.05"/><circle cx="226.3" cy="250.8" r="2.05"/><circle cx="211.9" cy="252.0" r="2.05"/><circle cx="217.6" cy="253.5" r="2.05"/><circle cx="221.7" cy="255.1" r="2.05"/><circle cx="224.0" cy="254.8" r="2.05"/><circle cx="228.6" cy="254.8" r="2.05"/><circle cx="226.3" cy="256.5" r="2.05"/><circle cx="225.7" cy="258.2" r="2.05"/><circle cx="224.5" cy="260.0" r="2.05"/><circle cx="225.5" cy="261.7" r="2.05"/><circle cx="216.5" cy="259.7" r="2.05"/><circle cx="218.2" cy="259.7" r="2.05"/><circle cx="222.8" cy="259.7" r="2.05"/><circle cx="213.0" cy="262.2" r="2.05"/><circle cx="213.3" cy="266.6" r="2.05"/><circle cx="227.4" cy="266.3" r="2.05"/><circle cx="232.0" cy="267.4" r="2.05"/><circle cx="232.6" cy="269.1" r="2.05"/><circle cx="234.9" cy="255.6" r="2.05"/><circle cx="237.8" cy="253.3" r="2.05"/><circle cx="238.9" cy="254.2" r="2.05"/><circle cx="244.4" cy="257.6" r="2.05"/><circle cx="225.9" cy="279.2" r="2.05"/><circle cx="225.9" cy="282.5" r="2.05"/><circle cx="253.6" cy="229.7" r="2.05"/><circle cx="253.6" cy="232.6" r="2.05"/><circle cx="258.6" cy="232.8" r="2.05"/><circle cx="248.0" cy="243.5" r="2.05"/><circle cx="246.9" cy="246.0" r="2.05"/><circle cx="254.0" cy="246.7" r="2.05"/><circle cx="259.8" cy="246.3" r="2.05"/><circle cx="275.1" cy="247.5" r="2.05"/><circle cx="249.4" cy="251.7" r="2.05"/><circle cx="249.2" cy="253.8" r="2.05"/><circle cx="264.4" cy="251.5" r="2.05"/><circle cx="267.6" cy="251.5" r="2.05"/><circle cx="263.6" cy="254.4" r="2.05"/><circle cx="266.2" cy="254.4" r="2.05"/><circle cx="270.5" cy="256.1" r="2.05"/><circle cx="248.0" cy="260.9" r="2.05"/><circle cx="263.6" cy="259.8" r="2.05"/><circle cx="248.3" cy="265.5" r="2.05"/><circle cx="256.7" cy="265.3" r="2.05"/><circle cx="261.3" cy="264.4" r="2.05"/><circle cx="268.2" cy="265.1" r="2.05"/><circle cx="253.6" cy="269.9" r="2.05"/><circle cx="262.3" cy="272.5" r="2.05"/><circle cx="269.7" cy="277.5" r="2.05"/><circle cx="246.2" cy="280.0" r="2.05"/><circle cx="253.6" cy="282.9" r="2.05"/><circle cx="258.2" cy="295.2" r="2.05"/><circle cx="265.0" cy="295.6" r="2.05"/><circle cx="274.5" cy="293.6" r="2.05"/><circle cx="256.1" cy="307.9" r="2.05"/><circle cx="281.6" cy="285.2" r="2.05"/><circle cx="288.1" cy="260.1" r="2.05"/><circle cx="287.1" cy="271.8" r="2.05"/><circle cx="297.7" cy="303.4" r="2.05"/></g><rect x="205.6" y="178.8" width="140.40" height="135.10" fill="none" stroke="#444" stroke-width="0.9"/><line x1="238.00" y1="313.9" x2="238.00" y2="316.09999999999997" stroke="#333" stroke-width="0.9"/><text x="238.00" y="323.9" text-anchor="middle" font-size="7.2" fill="#3a3a3a" stroke="#3a3a3a" stroke-width="0.4">10</text><line x1="288.50" y1="313.9" x2="288.50" y2="316.09999999999997" stroke="#333" stroke-width="0.9"/><text x="288.50" y="323.9" text-anchor="middle" font-size="7.2" fill="#3a3a3a" stroke="#3a3a3a" stroke-width="0.4">20</text><line x1="339.00" y1="313.9" x2="339.00" y2="316.09999999999997" stroke="#333" stroke-width="0.9"/><text x="339.00" y="323.9" text-anchor="middle" font-size="7.2" fill="#3a3a3a" stroke="#3a3a3a" stroke-width="0.4">30</text><line x1="203.4" y1="192.50" x2="205.6" y2="192.50" stroke="#333" stroke-width="0.9"/><text x="201.2" y="195.10" text-anchor="end" font-size="7.2" fill="#3a3a3a" stroke="#3a3a3a" stroke-width="0.4">5.0</text><line x1="203.4" y1="222.75" x2="205.6" y2="222.75" stroke="#333" stroke-width="0.9"/><text x="201.2" y="225.35" text-anchor="end" font-size="7.2" fill="#3a3a3a" stroke="#3a3a3a" stroke-width="0.4">2.5</text><line x1="203.4" y1="253.00" x2="205.6" y2="253.00" stroke="#333" stroke-width="0.9"/><text x="201.2" y="255.60" text-anchor="end" font-size="7.2" fill="#3a3a3a" stroke="#3a3a3a" stroke-width="0.4">0.0</text><line x1="203.4" y1="283.25" x2="205.6" y2="283.25" stroke="#333" stroke-width="0.9"/><text x="201.2" y="285.85" text-anchor="end" font-size="7.2" fill="#3a3a3a" stroke="#3a3a3a" stroke-width="0.4">-2.5</text><line x1="203.4" y1="313.50" x2="205.6" y2="313.50" stroke="#333" stroke-width="0.9"/><text x="201.2" y="316.10" text-anchor="end" font-size="7.2" fill="#3a3a3a" stroke="#3a3a3a" stroke-width="0.4">-5.0</text><text x="275.80" y="334.7" text-anchor="middle" font-size="9" fill="#000" stroke="#000" stroke-width="0.38">average rotational laxity for ER,</text><text x="275.80" y="344.29999999999995" text-anchor="middle" font-size="9" fill="#000" stroke="#000" stroke-width="0.38">5N force on right</text><text transform="translate(185.40,246.35) rotate(-90)" text-anchor="middle" font-size="9" fill="#000" stroke="#000" stroke-width="0.38">difference (t1-t2)</text><clipPath id="p7c"><rect x="376.3" y="178.8" width="146.50" height="135.10"/></clipPath><g clip-path="url(#p7c)"><line x1="385.20" y1="178.8" x2="385.20" y2="313.9" stroke="#e4e4e4" stroke-width="0.7"/><line x1="444.20" y1="178.8" x2="444.20" y2="313.9" stroke="#e4e4e4" stroke-width="0.7"/><line x1="503.20" y1="178.8" x2="503.20" y2="313.9" stroke="#e4e4e4" stroke-width="0.7"/><line x1="376.3" y1="189.32" x2="522.8" y2="189.32" stroke="#e4e4e4" stroke-width="0.7"/><line x1="376.3" y1="214.44" x2="522.8" y2="214.44" stroke="#e4e4e4" stroke-width="0.7"/><line x1="376.3" y1="239.56" x2="522.8" y2="239.56" stroke="#e4e4e4" stroke-width="0.7"/><line x1="376.3" y1="264.68" x2="522.8" y2="264.68" stroke="#e4e4e4" stroke-width="0.7"/><line x1="376.3" y1="289.80" x2="522.8" y2="289.80" stroke="#e4e4e4" stroke-width="0.7"/><line x1="414.70" y1="178.8" x2="414.70" y2="313.9" stroke="#dcdcdc" stroke-width="1"/><line x1="473.70" y1="178.8" x2="473.70" y2="313.9" stroke="#dcdcdc" stroke-width="1"/><line x1="376.3" y1="201.88" x2="522.8" y2="201.88" stroke="#dcdcdc" stroke-width="1"/><line x1="376.3" y1="227.00" x2="522.8" y2="227.00" stroke="#dcdcdc" stroke-width="1"/><line x1="376.3" y1="252.12" x2="522.8" y2="252.12" stroke="#dcdcdc" stroke-width="1"/><line x1="376.3" y1="277.24" x2="522.8" y2="277.24" stroke="#dcdcdc" stroke-width="1"/><line x1="376.3" y1="302.36" x2="522.8" y2="302.36" stroke="#dcdcdc" stroke-width="1"/><line x1="376.3" y1="184.0" x2="522.8" y2="184.0" stroke="#000" stroke-width="2.1" stroke-dasharray="7.3 6.6"/><line x1="376.3" y1="225.9" x2="522.8" y2="225.9" stroke="#000" stroke-width="2.1" stroke-dasharray="7.3 6.6"/><line x1="376.3" y1="268.1" x2="522.8" y2="268.1" stroke="#000" stroke-width="2.1" stroke-dasharray="7.3 6.6"/><circle cx="404.5" cy="185.8" r="2.05"/><circle cx="397.8" cy="200.4" r="2.05"/><circle cx="409.6" cy="198.9" r="2.05"/><circle cx="408.2" cy="204.4" r="2.05"/><circle cx="412.2" cy="208.1" r="2.05"/><circle cx="393.8" cy="213.6" r="2.05"/><circle cx="398.2" cy="212.2" r="2.05"/><circle cx="407.6" cy="214.1" r="2.05"/><circle cx="385.0" cy="218.4" r="2.05"/><circle cx="392.9" cy="218.6" r="2.05"/><circle cx="397.5" cy="218.0" r="2.05"/><circle cx="413.2" cy="218.0" r="2.05"/><circle cx="384.8" cy="223.1" r="2.05"/><circle cx="382.5" cy="225.5" r="2.05"/><circle cx="386.7" cy="227.7" r="2.05"/><circle cx="388.5" cy="228.3" r="2.05"/><circle cx="391.0" cy="227.0" r="2.05"/><circle cx="391.9" cy="229.9" r="2.05"/><circle cx="396.6" cy="226.1" r="2.05"/><circle cx="401.4" cy="224.3" r="2.05"/><circle cx="402.8" cy="226.6" r="2.05"/><circle cx="403.3" cy="228.9" r="2.05"/><circle cx="405.3" cy="230.8" r="2.05"/><circle cx="415.0" cy="220.5" r="2.05"/><circle cx="384.4" cy="231.5" r="2.05"/><circle cx="397.7" cy="233.6" r="2.05"/><circle cx="402.6" cy="236.5" r="2.05"/><circle cx="409.5" cy="237.3" r="2.05"/><circle cx="414.4" cy="237.3" r="2.05"/><circle cx="385.0" cy="238.9" r="2.05"/><circle cx="413.7" cy="246.6" r="2.05"/><circle cx="427.5" cy="189.7" r="2.05"/><circle cx="445.9" cy="193.5" r="2.05"/><circle cx="427.8" cy="201.6" r="2.05"/><circle cx="430.7" cy="204.7" r="2.05"/><circle cx="433.6" cy="208.5" r="2.05"/><circle cx="440.8" cy="205.4" r="2.05"/><circle cx="422.8" cy="211.7" r="2.05"/><circle cx="422.8" cy="214.5" r="2.05"/><circle cx="422.7" cy="217.0" r="2.05"/><circle cx="422.9" cy="220.3" r="2.05"/><circle cx="446.6" cy="213.2" r="2.05"/><circle cx="416.3" cy="222.1" r="2.05"/><circle cx="429.8" cy="218.7" r="2.05"/><circle cx="440.0" cy="218.3" r="2.05"/><circle cx="410.7" cy="224.0" r="2.05"/><circle cx="409.1" cy="225.8" r="2.05"/><circle cx="420.9" cy="230.2" r="2.05"/><circle cx="424.3" cy="229.8" r="2.05"/><circle cx="420.4" cy="233.3" r="2.05"/><circle cx="416.0" cy="233.3" r="2.05"/><circle cx="435.4" cy="231.9" r="2.05"/><circle cx="440.8" cy="229.2" r="2.05"/><circle cx="445.1" cy="231.0" r="2.05"/><circle cx="430.7" cy="243.3" r="2.05"/><circle cx="419.4" cy="253.2" r="2.05"/><circle cx="424.7" cy="253.6" r="2.05"/><circle cx="409.3" cy="261.4" r="2.05"/><circle cx="429.5" cy="262.9" r="2.05"/><circle cx="441.0" cy="264.9" r="2.05"/><circle cx="441.8" cy="273.5" r="2.05"/><circle cx="469.7" cy="201.4" r="2.05"/><circle cx="471.0" cy="209.7" r="2.05"/><circle cx="465.8" cy="219.5" r="2.05"/><circle cx="470.4" cy="221.9" r="2.05"/><circle cx="451.9" cy="225.4" r="2.05"/><circle cx="454.3" cy="237.5" r="2.05"/><circle cx="516.0" cy="217.1" r="2.05"/><circle cx="459.7" cy="308.0" r="2.05"/><circle cx="475.7" cy="297.2" r="2.05"/></g><rect x="376.3" y="178.8" width="146.50" height="135.10" fill="none" stroke="#444" stroke-width="0.9"/><line x1="414.70" y1="313.9" x2="414.70" y2="316.09999999999997" stroke="#333" stroke-width="0.9"/><text x="414.70" y="323.9" text-anchor="middle" font-size="7.2" fill="#3a3a3a" stroke="#3a3a3a" stroke-width="0.4">10</text><line x1="473.70" y1="313.9" x2="473.70" y2="316.09999999999997" stroke="#333" stroke-width="0.9"/><text x="473.70" y="323.9" text-anchor="middle" font-size="7.2" fill="#3a3a3a" stroke="#3a3a3a" stroke-width="0.4">20</text><line x1="374.1" y1="201.88" x2="376.3" y2="201.88" stroke="#333" stroke-width="0.9"/><text x="371.90000000000003" y="204.48" text-anchor="end" font-size="7.2" fill="#3a3a3a" stroke="#3a3a3a" stroke-width="0.4">2</text><line x1="374.1" y1="227.00" x2="376.3" y2="227.00" stroke="#333" stroke-width="0.9"/><text x="371.90000000000003" y="229.60" text-anchor="end" font-size="7.2" fill="#3a3a3a" stroke="#3a3a3a" stroke-width="0.4">0</text><line x1="374.1" y1="252.12" x2="376.3" y2="252.12" stroke="#333" stroke-width="0.9"/><text x="371.90000000000003" y="254.72" text-anchor="end" font-size="7.2" fill="#3a3a3a" stroke="#3a3a3a" stroke-width="0.4">-2</text><line x1="374.1" y1="277.24" x2="376.3" y2="277.24" stroke="#333" stroke-width="0.9"/><text x="371.90000000000003" y="279.84" text-anchor="end" font-size="7.2" fill="#3a3a3a" stroke="#3a3a3a" stroke-width="0.4">-4</text><line x1="374.1" y1="302.36" x2="376.3" y2="302.36" stroke="#333" stroke-width="0.9"/><text x="371.90000000000003" y="304.96" text-anchor="end" font-size="7.2" fill="#3a3a3a" stroke="#3a3a3a" stroke-width="0.4">-6</text><text x="449.55" y="334.7" text-anchor="middle" font-size="9" fill="#000" stroke="#000" stroke-width="0.38">average rotational laxity for IR,</text><text x="449.55" y="344.29999999999995" text-anchor="middle" font-size="9" fill="#000" stroke="#000" stroke-width="0.38">5N force on left</text><text transform="translate(362.00,246.35) rotate(-90)" text-anchor="middle" font-size="9" fill="#000" stroke="#000" stroke-width="0.38">difference (t1-t2)</text><clipPath id="p8c"><rect x="553.1" y="178.7" width="145.70" height="135.20"/></clipPath><g clip-path="url(#p8c)"><line x1="562.95" y1="178.7" x2="562.95" y2="313.9" stroke="#e4e4e4" stroke-width="0.7"/><line x1="619.05" y1="178.7" x2="619.05" y2="313.9" stroke="#e4e4e4" stroke-width="0.7"/><line x1="675.15" y1="178.7" x2="675.15" y2="313.9" stroke="#e4e4e4" stroke-width="0.7"/><line x1="553.1" y1="187.95" x2="698.8" y2="187.95" stroke="#e4e4e4" stroke-width="0.7"/><line x1="553.1" y1="236.85" x2="698.8" y2="236.85" stroke="#e4e4e4" stroke-width="0.7"/><line x1="553.1" y1="285.75" x2="698.8" y2="285.75" stroke="#e4e4e4" stroke-width="0.7"/><line x1="591.00" y1="178.7" x2="591.00" y2="313.9" stroke="#dcdcdc" stroke-width="1"/><line x1="647.10" y1="178.7" x2="647.10" y2="313.9" stroke="#dcdcdc" stroke-width="1"/><line x1="553.1" y1="212.40" x2="698.8" y2="212.40" stroke="#dcdcdc" stroke-width="1"/><line x1="553.1" y1="261.30" x2="698.8" y2="261.30" stroke="#dcdcdc" stroke-width="1"/><line x1="553.1" y1="310.20" x2="698.8" y2="310.20" stroke="#dcdcdc" stroke-width="1"/><line x1="553.1" y1="228.6" x2="698.8" y2="228.6" stroke="#000" stroke-width="2.1" stroke-dasharray="7.3 6.6"/><line x1="553.1" y1="261.3" x2="698.8" y2="261.3" stroke="#000" stroke-width="2.1" stroke-dasharray="7.3 6.6"/><line x1="553.1" y1="294.8" x2="698.8" y2="294.8" stroke="#000" stroke-width="2.1" stroke-dasharray="7.3 6.6"/><circle cx="692.6" cy="183.8" r="2.05"/><circle cx="609.5" cy="218.0" r="2.05"/><circle cx="593.9" cy="234.6" r="2.05"/><circle cx="580.2" cy="241.7" r="2.05"/><circle cx="589.9" cy="243.2" r="2.05"/><circle cx="597.8" cy="242.4" r="2.05"/><circle cx="603.3" cy="242.9" r="2.05"/><circle cx="606.7" cy="246.0" r="2.05"/><circle cx="618.7" cy="240.1" r="2.05"/><circle cx="623.4" cy="242.9" r="2.05"/><circle cx="573.0" cy="247.5" r="2.05"/><circle cx="571.2" cy="249.5" r="2.05"/><circle cx="569.7" cy="251.5" r="2.05"/><circle cx="578.8" cy="253.0" r="2.05"/><circle cx="589.2" cy="249.9" r="2.05"/><circle cx="588.0" cy="254.5" r="2.05"/><circle cx="587.3" cy="257.0" r="2.05"/><circle cx="591.6" cy="256.4" r="2.05"/><circle cx="566.9" cy="257.1" r="2.05"/><circle cx="569.5" cy="257.9" r="2.05"/><circle cx="571.2" cy="259.2" r="2.05"/><circle cx="572.1" cy="260.9" r="2.05"/><circle cx="562.2" cy="260.9" r="2.05"/><circle cx="564.3" cy="261.4" r="2.05"/><circle cx="560.5" cy="263.1" r="2.05"/><circle cx="558.7" cy="265.2" r="2.05"/><circle cx="562.6" cy="264.0" r="2.05"/><circle cx="565.2" cy="263.5" r="2.05"/><circle cx="560.9" cy="265.7" r="2.05"/><circle cx="567.8" cy="263.5" r="2.05"/><circle cx="569.1" cy="264.4" r="2.05"/><circle cx="567.4" cy="268.7" r="2.05"/><circle cx="576.8" cy="259.6" r="2.05"/><circle cx="579.4" cy="260.1" r="2.05"/><circle cx="576.8" cy="263.9" r="2.05"/><circle cx="577.1" cy="266.1" r="2.05"/><circle cx="573.8" cy="269.6" r="2.05"/><circle cx="578.1" cy="267.8" r="2.05"/><circle cx="582.4" cy="268.3" r="2.05"/><circle cx="571.7" cy="277.0" r="2.05"/><circle cx="590.6" cy="261.2" r="2.05"/><circle cx="589.3" cy="262.9" r="2.05"/><circle cx="596.2" cy="259.5" r="2.05"/><circle cx="598.8" cy="259.9" r="2.05"/><circle cx="597.5" cy="261.6" r="2.05"/><circle cx="596.7" cy="263.8" r="2.05"/><circle cx="598.8" cy="262.9" r="2.05"/><circle cx="594.9" cy="266.4" r="2.05"/><circle cx="595.4" cy="268.1" r="2.05"/><circle cx="603.1" cy="256.0" r="2.05"/><circle cx="604.0" cy="258.6" r="2.05"/><circle cx="603.6" cy="264.7" r="2.05"/><circle cx="605.7" cy="265.1" r="2.05"/><circle cx="604.0" cy="266.8" r="2.05"/><circle cx="603.1" cy="271.6" r="2.05"/><circle cx="611.3" cy="265.5" r="2.05"/><circle cx="588.5" cy="275.0" r="2.05"/><circle cx="588.9" cy="278.0" r="2.05"/><circle cx="593.2" cy="278.4" r="2.05"/><circle cx="600.1" cy="276.3" r="2.05"/><circle cx="607.0" cy="278.0" r="2.05"/><circle cx="603.4" cy="284.6" r="2.05"/><circle cx="576.5" cy="295.1" r="2.05"/><circle cx="613.7" cy="258.7" r="2.05"/><circle cx="612.9" cy="265.2" r="2.05"/><circle cx="614.3" cy="268.0" r="2.05"/><circle cx="611.6" cy="261.6" r="2.05"/><circle cx="621.7" cy="256.2" r="2.05"/><circle cx="633.9" cy="255.7" r="2.05"/><circle cx="631.4" cy="278.1" r="2.05"/><circle cx="610.9" cy="289.8" r="2.05"/><circle cx="617.4" cy="293.4" r="2.05"/><circle cx="605.6" cy="308.0" r="2.05"/><circle cx="654.4" cy="277.4" r="2.05"/></g><rect x="553.1" y="178.7" width="145.70" height="135.20" fill="none" stroke="#444" stroke-width="0.9"/><line x1="591.00" y1="313.9" x2="591.00" y2="316.09999999999997" stroke="#333" stroke-width="0.9"/><text x="591.00" y="323.9" text-anchor="middle" font-size="7.2" fill="#3a3a3a" stroke="#3a3a3a" stroke-width="0.4">10</text><line x1="647.10" y1="313.9" x2="647.10" y2="316.09999999999997" stroke="#333" stroke-width="0.9"/><text x="647.10" y="323.9" text-anchor="middle" font-size="7.2" fill="#3a3a3a" stroke="#3a3a3a" stroke-width="0.4">20</text><line x1="550.9" y1="212.40" x2="553.1" y2="212.40" stroke="#333" stroke-width="0.9"/><text x="548.7" y="215.00" text-anchor="end" font-size="7.2" fill="#3a3a3a" stroke="#3a3a3a" stroke-width="0.4">5</text><line x1="550.9" y1="261.30" x2="553.1" y2="261.30" stroke="#333" stroke-width="0.9"/><text x="548.7" y="263.90" text-anchor="end" font-size="7.2" fill="#3a3a3a" stroke="#3a3a3a" stroke-width="0.4">0</text><line x1="550.9" y1="310.20" x2="553.1" y2="310.20" stroke="#333" stroke-width="0.9"/><text x="548.7" y="312.80" text-anchor="end" font-size="7.2" fill="#3a3a3a" stroke="#3a3a3a" stroke-width="0.4">-5</text><text x="625.95" y="334.7" text-anchor="middle" font-size="9" fill="#000" stroke="#000" stroke-width="0.38">average rotational laxity for IR,</text><text x="625.95" y="344.29999999999995" text-anchor="middle" font-size="9" fill="#000" stroke="#000" stroke-width="0.38">5N force on right</text><text transform="translate(538.00,246.30) rotate(-90)" text-anchor="middle" font-size="9" fill="#000" stroke="#000" stroke-width="0.38">difference (t1-t2)</text></g></svg>
</body></html>
